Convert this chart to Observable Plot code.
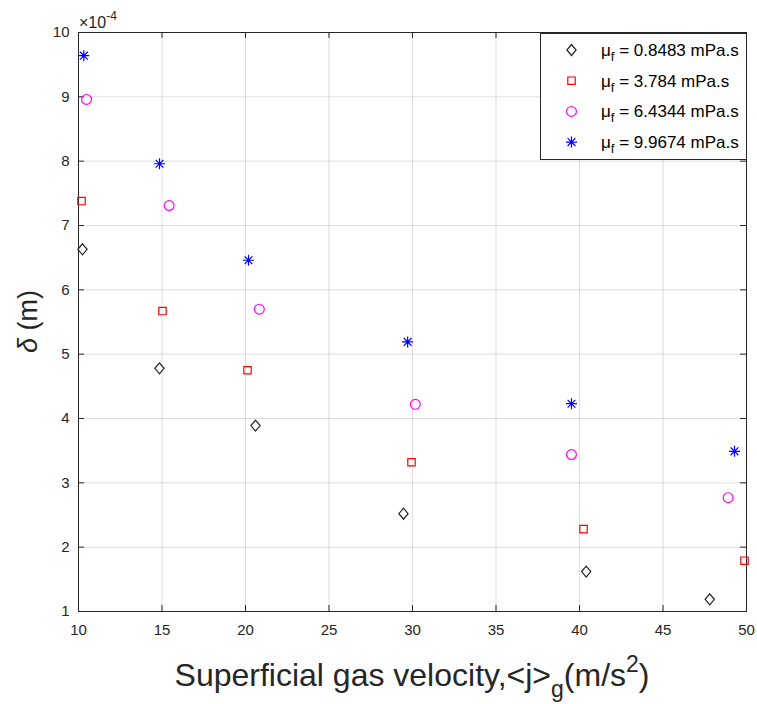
<!DOCTYPE html>
<html>
<head>
<meta charset="utf-8">
<script src="https://cdn.jsdelivr.net/npm/d3@7"></script>
<script src="https://cdn.jsdelivr.net/npm/@observablehq/plot@0.6"></script>
<style>
  body { margin: 0; background: #fff; }
  svg { font-family: "Liberation Sans", Arial, sans-serif; }
</style>
</head>
<body>
<div id="chart"></div>
<script>
// Superficial gas velocity (x) and film thickness δ (×10^-4 m) for each viscosity
const viscosities = ["0.8483", "3.784", "6.4344", "9.9674"];
const x1 = [10.24, 14.85, 20.60, 29.46, 40.40, 47.80];
const y1 = [6.63, 4.78, 3.89, 2.52, 1.62, 1.19];
const x2 = [10.18, 15.03, 20.12, 29.94, 40.24, 49.88];
const y2 = [7.38, 5.67, 4.75, 3.32, 2.28, 1.79];
const x3 = [10.48, 15.43, 20.83, 30.17, 39.52, 48.90];
const y3 = [8.96, 7.31, 5.70, 4.22, 3.44, 2.77];
const x4 = [10.32, 14.85, 20.18, 29.71, 39.52, 49.28];
const y4 = [9.64, 7.96, 6.46, 5.19, 4.23, 3.49];
const xTicks = [10, 15, 20, 25, 30, 35, 40, 45, 50];
const yTicks = [1, 2, 3, 4, 5, 6, 7, 8, 9, 10];

const W = 757, H = 704, mT = 32, mR = 11, mB = 93, mL = 78;
const innerW = W - mL - mR, innerH = H - mT - mB;
const ink = "#262626";

// MATLAB-like marker shapes
const diamondSym = {draw(c) { c.moveTo(0, -5.5); c.lineTo(4.6, 0); c.lineTo(0, 5.5); c.lineTo(-4.6, 0); c.closePath(); }};
const squareSym = {draw(c) { c.moveTo(-3.7, -3.7); c.lineTo(3.7, -3.7); c.lineTo(3.7, 3.7); c.lineTo(-3.7, 3.7); c.closePath(); }};
const circleSym = {draw(c) { c.moveTo(4.9, 0); c.arc(0, 0, 4.9, 0, 2 * Math.PI); }};
const starSym = {draw(c) {
  c.moveTo(-5.5, 0); c.lineTo(5.5, 0);
  c.moveTo(0, -5.5); c.lineTo(0, 5.5);
  c.moveTo(-3.9, -3.9); c.lineTo(3.9, 3.9);
  c.moveTo(-3.9, 3.9); c.lineTo(3.9, -3.9);
}};

const seriesDefs = [
  {xs: x1, ys: y1, sym: diamondSym, color: "#222222"},
  {xs: x2, ys: y2, sym: squareSym, color: "#ff0000"},
  {xs: x3, ys: y3, sym: circleSym, color: "#ff00ff"},
  {xs: x4, ys: y4, sym: starSym, color: "#0000ff"}
];

const dotMarks = seriesDefs.map(s =>
  Plot.dot(s.xs.map((x, i) => ({x, y: s.ys[i]})), {
    x: "x", y: "y", symbol: s.sym, r: 5, fill: "none", stroke: s.color, strokeWidth: 1.2
  })
);

const svg = Plot.plot({
  width: W, height: H,
  marginTop: mT, marginRight: mR, marginBottom: mB, marginLeft: mL,
  x: {domain: [10, 50]},
  y: {domain: [1, 10]},
  style: {fontFamily: "Liberation Sans, Arial, sans-serif", fontSize: "15px", color: ink, background: "white", overflow: "visible"},
  marks: [
    Plot.gridX(xTicks, {stroke: ink, strokeOpacity: 0.15}),
    Plot.gridY(yTicks, {stroke: ink, strokeOpacity: 0.15}),
    Plot.tickX(xTicks, {x: d => d, insetTop: innerH - 6, stroke: ink}),
    Plot.tickX(xTicks, {x: d => d, insetBottom: innerH - 6, stroke: ink}),
    Plot.tickY(yTicks, {y: d => d, insetRight: innerW - 6, stroke: ink}),
    Plot.tickY(yTicks, {y: d => d, insetLeft: innerW - 6, stroke: ink}),
    Plot.axisX(xTicks, {tickSize: 0, tickPadding: 13, label: null, fontSize: 15, fill: ink, tickFormat: d3.format("d")}),
    Plot.axisY(yTicks, {tickSize: 0, tickPadding: 9, label: null, fontSize: 15, fill: ink, tickFormat: d3.format("d")}),
    Plot.frame({stroke: ink}),
    ...dotMarks
  ]
});

const s = d3.select(svg);

// exponent label
const ex = s.append("text").attr("x", 79).attr("y", 28).attr("text-anchor", "start").attr("fill", ink).attr("font-size", 16);
ex.append("tspan").text("×10");
ex.append("tspan").attr("dy", -8).attr("font-size", 12).text("-4");

// x label
const xl = s.append("text").attr("x", mL + innerW / 2).attr("y", 686)
  .attr("text-anchor", "middle").attr("fill", ink).attr("font-size", 32);
xl.append("tspan").text("Superficial gas velocity,<j>");
xl.append("tspan").attr("dy", 11).attr("font-size", 23).text("g");
xl.append("tspan").attr("dy", -11).text("(m/s");
xl.append("tspan").attr("dy", -14).attr("font-size", 23).text("2");
xl.append("tspan").attr("dy", 14).text(")");

// y label
const yl = s.append("text").attr("transform", `translate(37,${mT + innerH / 2}) rotate(-90)`)
  .attr("text-anchor", "middle").attr("fill", ink).attr("font-size", 27);
yl.append("tspan").attr("font-style", "italic").text("δ");
yl.append("tspan").text(" (m)");

// legend
const lg = s.append("g");
lg.append("rect").attr("x", 540.5).attr("y", 33.5).attr("width", 206).attr("height", 126)
  .attr("fill", "white").attr("stroke", ink);
seriesDefs.forEach((d, i) => {
  const cy = 50 + i * 30.7;
  lg.append("path").attr("d", d3.symbol(d.sym)()).attr("transform", `translate(571.5,${cy})`)
    .attr("fill", "none").attr("stroke", d.color).attr("stroke-width", 1.2);
  const t = lg.append("text").attr("x", 601).attr("y", cy + 6).attr("text-anchor", "start")
    .attr("fill", "#000").attr("font-size", 17);
  t.append("tspan").text("μ");
  t.append("tspan").attr("dy", 5).attr("font-size", 13).text("f");
  t.append("tspan").attr("dy", -5).text(` = ${viscosities[i]} mPa.s`);
});

document.getElementById("chart").appendChild(svg);
</script>
</body>
</html>
